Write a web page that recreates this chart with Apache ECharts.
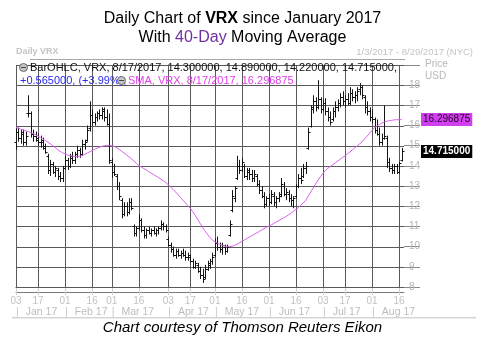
<!DOCTYPE html>
<html><head><meta charset="utf-8">
<script src="https://cdn.jsdelivr.net/npm/echarts@6/dist/echarts.min.js"></script>
<style>html,body{margin:0;padding:0;background:#fff}#c{width:485px;height:351px}</style>
</head><body><div id="c"></div>
<script>
// Trading days (2017) per month; last Aug day (18) is an empty slot at the right edge
const janDays=[3,4,5,6,9,10,11,12,13,17,18,19,20,23,24,25,26,27,30,31];
const febDays=[1,2,3,6,7,8,9,10,13,14,15,16,17,21,22,23,24,27,28];
const marDays=[1,2,3,6,7,8,9,10,13,14,15,16,17,20,21,22,23,24,27,28,29,30,31];
const aprDays=[3,4,5,6,7,10,11,12,13,17,18,19,20,21,24,25,26,27,28];
const mayDays=[1,2,3,4,5,8,9,10,11,12,15,16,17,18,19,22,23,24,25,26,30,31];
const junDays=[1,2,5,6,7,8,9,12,13,14,15,16,19,20,21,22,23,26,27,28,29,30];
const julDays=[3,5,6,7,10,11,12,13,14,17,18,19,20,21,24,25,26,27,28,31];
const augDays=[1,2,3,4,7,8,9,10,11,14,15,16,17,18];

const dayTickLabels=['01-03','01-17','02-01','02-16','03-01','03-16','04-03','04-17','05-01','05-16','06-01','06-16','07-03','07-17','08-01','08-16'];
const monthLabels={'01-03':'Jan 17','02-01':'Feb 17','03-01':'Mar 17','04-03':'Apr 17','05-01':'May 17','06-01':'Jun 17','07-03':'Jul 17','08-01':'Aug 17'};
const priceTicks=[8,9,10,11,12,13,14,15,16,17,18];
const gridPrices=[8,9,10,11,12,13,14,15,16,17,18,19];

const openP=[
15.2,15.7,15.4,15.6,15.2,16.6,16.6,15.6,15.5,15.3,
15.2,15.2,15.0,14.5,13.8,14.1,13.7,13.8,13.5,13.4,
13.9,14.3,14.0,14.4,14.3,14.6,14.8,14.6,15.1,15.3,
15.9,16.5,16.2,16.4,16.6,16.5,16.7,16.4,16.1,14.2,
13.7,13.5,13.0,12.3,11.6,12.0,11.7,12.2,11.0,10.7,
10.9,11.3,10.8,10.6,10.8,10.7,10.8,10.7,10.8,10.9,
11.1,11.0,10.4,10.1,9.9,9.6,9.8,9.6,9.7,9.6,
9.5,9.5,9.3,9.0,9.1,8.8,8.6,8.5,8.9,9.1,
9.3,9.6,10.2,10.0,9.9,10.0,9.8,10.6,11.8,12.4,
13.4,14.0,13.8,14.0,13.5,13.7,13.6,13.4,13.5,13.1,
12.8,12.5,12.1,12.4,12.2,12.5,12.2,12.4,12.6,13.0,
12.6,12.6,12.4,12.3,12.5,13.0,13.4,13.5,13.9,14.9,
16.0,16.9,17.2,17.0,17.3,16.8,17.1,16.7,16.4,16.3,
16.7,16.9,17.1,17.4,17.2,17.3,17.1,17.6,17.4,17.5,
17.8,17.9,17.4,16.9,16.7,16.4,16.3,15.8,15.6,15.2,
15.4,15.4,14.2,13.9,13.8,14.0,13.7,14.3];
const highP=[
15.9,15.9,15.8,15.8,15.7,17.5,16.7,15.8,15.7,15.6,
15.5,15.4,15.1,14.6,14.3,14.2,14.0,13.9,13.7,14.0,
14.5,14.4,14.6,14.7,14.7,15.0,14.9,15.3,15.3,16.0,
17.2,16.8,16.6,16.7,16.8,16.9,16.9,16.8,16.6,14.4,
14.1,13.6,13.2,12.4,12.2,12.2,12.4,12.4,11.1,11.0,
11.6,11.4,11.0,10.9,11.0,10.9,11.0,10.9,11.0,11.3,
11.2,11.1,10.5,10.2,10.0,9.9,9.9,9.8,9.9,9.8,
9.7,9.6,9.4,9.3,9.2,9.0,8.9,9.1,9.3,9.4,
9.7,10.4,10.5,10.2,10.2,10.1,10.1,11.3,12.8,13.0,
14.5,14.3,14.4,14.1,13.9,13.9,13.8,13.8,13.6,13.3,
13.0,12.7,12.5,12.6,12.8,12.7,12.5,12.7,13.4,13.2,
12.9,12.8,12.6,12.5,13.1,13.6,13.9,14.1,14.2,15.9,
17.0,17.5,17.4,18.25,17.4,17.3,17.35,16.9,16.7,16.9,
17.2,17.3,17.6,17.7,17.5,17.6,17.9,17.8,17.7,17.9,
18.1,18.0,17.5,17.2,16.9,16.8,16.4,16.3,15.9,15.6,
17.0,15.5,14.4,14.1,14.1,14.1,14.2,14.89];
const lowP=[
14.8,15.2,15.1,15.0,15.0,16.4,15.4,15.2,15.2,15.0,
14.9,14.8,14.6,13.6,13.5,13.6,13.45,13.3,13.2,13.2,
13.8,13.8,13.9,14.1,14.1,14.4,14.4,14.5,14.8,15.2,
15.7,16.0,16.0,16.2,16.3,16.3,16.2,16.0,14.1,13.4,
13.5,12.8,12.3,11.4,11.5,11.5,11.6,11.8,10.5,10.5,
10.8,10.7,10.4,10.4,10.6,10.5,10.6,10.5,10.6,10.8,
10.8,10.7,10.0,9.7,9.5,9.4,9.5,9.4,9.5,9.3,
9.3,9.2,8.9,8.9,8.7,8.4,8.2,8.4,8.8,8.9,
9.1,9.5,9.8,9.7,9.6,9.6,9.7,10.5,11.7,12.2,
13.3,13.6,13.7,13.4,13.3,13.3,13.2,13.2,13.0,12.6,
12.4,11.9,12.0,12.0,12.1,12.0,11.9,12.2,12.45,12.5,
12.3,12.2,12.0,11.9,12.4,12.9,13.1,13.4,13.6,14.8,
15.9,16.6,16.7,16.8,16.6,16.7,16.5,16.2,16.0,16.2,
16.4,16.7,16.9,17.0,16.9,17.0,17.0,17.2,17.1,17.2,
17.5,17.3,16.6,16.5,16.2,16.1,15.6,15.5,15.0,15.0,
15.3,13.9,13.7,13.6,13.6,13.6,13.6,14.22];
const closeP=[
15.7,15.4,15.7,15.2,15.5,16.6,15.6,15.5,15.4,15.2,
15.3,14.9,14.7,13.8,14.1,13.7,13.9,13.5,13.4,13.9,
14.3,14.0,14.5,14.3,14.6,14.8,14.6,15.1,15.2,15.8,
16.5,16.2,16.4,16.6,16.5,16.8,16.4,16.1,14.3,13.7,
13.6,13.0,12.5,11.6,12.0,11.7,12.2,11.9,10.7,10.9,
11.3,10.8,10.6,10.8,10.7,10.8,10.7,10.8,10.9,11.1,
11.0,10.8,10.1,9.9,9.6,9.8,9.6,9.7,9.6,9.5,
9.6,9.3,9.0,9.2,8.8,8.6,8.4,8.9,9.2,9.3,
9.5,10.2,10.0,9.9,10.1,9.8,10.0,11.1,12.5,12.9,
14.0,13.8,14.2,13.5,13.8,13.6,13.4,13.6,13.1,12.8,
12.5,12.1,12.4,12.2,12.6,12.2,12.4,12.5,13.1,12.6,
12.7,12.4,12.3,12.4,13.0,13.4,13.3,13.9,14.0,15.7,
16.8,17.2,16.9,17.3,16.8,17.1,16.7,16.4,16.2,16.7,
16.9,17.1,17.4,17.2,17.3,17.1,17.6,17.4,17.5,17.7,
17.9,17.5,16.9,16.7,16.4,16.3,15.8,15.6,15.2,15.4,
15.5,14.2,13.9,13.8,14.0,13.7,14.15,14.715];
const sma40=[
15.9,15.86,15.82,15.78,15.74,15.7,15.65,15.6,15.54,15.47,
15.4,15.33,15.25,15.17,15.09,15.0,14.9,14.8,14.72,14.65,
14.59,14.54,14.5,14.48,14.47,14.47,14.48,14.52,14.57,14.63,
14.7,14.76,14.82,14.88,14.93,14.97,15.0,15.02,15.02,15.0,
14.97,14.9,14.82,14.73,14.64,14.55,14.45,14.35,14.25,14.13,
14.02,13.95,13.87,13.8,13.72,13.65,13.57,13.5,13.42,13.34,
13.26,13.17,13.07,12.95,12.83,12.7,12.57,12.44,12.3,12.17,
12.03,11.9,11.73,11.55,11.35,11.15,10.95,10.77,10.6,10.45,
10.33,10.24,10.17,10.11,10.06,10.03,10.01,10.0,10.02,10.06,
10.12,10.19,10.26,10.33,10.4,10.47,10.54,10.61,10.68,10.75,
10.82,10.89,10.96,11.02,11.08,11.15,11.22,11.29,11.36,11.43,
11.5,11.58,11.66,11.75,11.84,11.94,12.05,12.17,12.3,12.5,
12.7,12.9,13.1,13.3,13.47,13.63,13.78,13.88,13.97,14.06,
14.15,14.24,14.33,14.42,14.5,14.6,14.7,14.8,14.9,15.0,
15.1,15.2,15.34,15.48,15.62,15.76,15.9,15.98,16.05,16.12,
16.18,16.21,16.24,16.26,16.28,16.29,16.29,16.296875];
const lastSma=16.296875, lastClose=14.715;

function pad(n){return (n<10?'0':'')+n;}
const months=[janDays,febDays,marDays,aprDays,mayDays,junDays,julDays,augDays];
const categories=[];
months.forEach((days,m)=>days.forEach(d=>categories.push(pad(m+1)+'-'+pad(d))));

const ohlc=openP.map((o,i)=>[i,o,highP[i],lowP[i],closeP[i]]);
const tickIdx=dayTickLabels.map(d=>categories.indexOf(d));
const isTick=(idx,val)=>tickIdx.indexOf(idx)>=0;
const isMonth=(idx)=>monthLabels[categories[idx]]!==undefined;
const FONT='Liberation Sans, Arial, sans-serif';
const GRID='#5a5a5a';

const chart=echarts.init(document.getElementById('c'),null,{renderer:'canvas'});
chart.setOption({
  animation:false,
  title:[
    {text:'Daily Chart of {b|VRX} since January 2017',left:'center',top:6,
     textStyle:{fontFamily:FONT,fontSize:16,fontWeight:'normal',color:'#000',
       rich:{b:{fontFamily:FONT,fontSize:16,fontWeight:'bold',color:'#000'}}}},
    {text:'With {p|40-Day} Moving Average',left:'center',top:25,
     textStyle:{fontFamily:FONT,fontSize:16,fontWeight:'normal',color:'#000',
       rich:{p:{fontFamily:FONT,fontSize:16,color:'#7030a0'}}}}
  ],
  grid:{left:16,right:81,top:65,bottom:64},
  xAxis:[
    {type:'category',data:categories,boundaryGap:false,
     axisLine:{show:true,lineStyle:{color:'#444',width:1}},
     axisTick:{show:true,interval:isTick,length:8,lineStyle:{color:'#cfcfcf'}},
     splitLine:{show:false},
     axisLabel:{interval:isTick,formatter:v=>v.slice(3),color:'#c2c2c2',fontFamily:FONT,fontSize:10,margin:9}},
    {type:'category',data:categories,boundaryGap:false,position:'bottom',offset:5,
     axisLine:{show:true,lineStyle:{color:'#777'}},axisTick:{show:false},splitLine:{show:false},
     axisLabel:{interval:(i)=>isMonth(i),align:'left',margin:15,
       formatter:v=>'{s||}{m|'+monthLabels[v]+'}',
       rich:{s:{color:'#c8c8c8',fontFamily:FONT,fontSize:10.5,padding:[0,7,0,0]},
             m:{color:'#bdbdbd',fontFamily:FONT,fontSize:10.5}}}}
  ],
  yAxis:{type:'value',position:'right',min:8,max:19,interval:1,
    axisLine:{show:false},
    axisTick:{show:true,length:16,lineStyle:{color:'#8a8a8a'}},
    splitLine:{show:false},
    axisLabel:{formatter:v=>priceTicks.indexOf(v)>=0?String(v):'',color:'#b4b4b4',fontFamily:FONT,fontSize:10,margin:5}},
  series:[
    {type:'custom',name:'gridV',silent:true,clip:false,z:1,data:tickIdx.map(i=>[i,8]),encode:{x:0,y:1},
     renderItem:function(params,api){
       const cs=params.coordSys;const p=api.coord([api.value(0),8]);const x=Math.round(p[0])+0.5;
       return {type:'line',shape:{x1:x,y1:cs.y,x2:x,y2:cs.y+cs.height},style:{stroke:GRID,lineWidth:1}};
     }},
    {type:'custom',name:'gridH',silent:true,clip:false,z:1,data:gridPrices.map(v=>[0,v]),encode:{x:0,y:1},
     renderItem:function(params,api){
       const cs=params.coordSys;const p=api.coord([0,api.value(1)]);const y=Math.round(p[1])+0.5;
       return {type:'line',shape:{x1:cs.x,y1:y,x2:cs.x+cs.width,y2:y},style:{stroke:GRID,lineWidth:1}};
     }},
    {type:'custom',name:'BarOHLC',data:ohlc,encode:{x:0,y:[1,2,3,4]},z:3,
     renderItem:function(params,api){
       const i=api.value(0);
       const pH=api.coord([i,api.value(2)]),pL=api.coord([i,api.value(3)]);
       const pO=api.coord([i,api.value(1)]),pC=api.coord([i,api.value(4)]);
       const cx=Math.round(pH[0])+0.5;
       return {type:'group',children:[
         {type:'line',shape:{x1:cx,y1:pH[1],x2:cx,y2:pL[1]},style:{stroke:'#151515',lineWidth:1}},
         {type:'line',shape:{x1:cx-2,y1:Math.round(pO[1])+0.5,x2:cx,y2:Math.round(pO[1])+0.5},style:{stroke:'#151515',lineWidth:1}},
         {type:'line',shape:{x1:cx,y1:Math.round(pC[1])+0.5,x2:cx+2,y2:Math.round(pC[1])+0.5},style:{stroke:'#151515',lineWidth:1}}
       ]};
     }},
    {type:'line',name:'SMA',data:sma40,showSymbol:false,smooth:false,z:4,
     lineStyle:{color:'#d860ec',width:1},
     markLine:{silent:true,symbol:'none',animation:false,
       lineStyle:{color:'transparent',width:0},
       data:[
         {yAxis:lastSma,label:{show:true,position:'end',distance:17,formatter:'16.296875',
           backgroundColor:'#d23ff0',color:'#2a002a',fontFamily:FONT,fontSize:10,padding:[2,2,1,2]}},
         {yAxis:lastClose,label:{show:true,position:'end',distance:17,formatter:'14.715000',
           backgroundColor:'#000',color:'#fff',fontWeight:'bold',fontFamily:FONT,fontSize:10,padding:[2,2,1,2]}}
       ]}}
  ],
  graphic:[
    {type:'text',left:16,top:47,style:{text:'Daily VRX',fill:'#c4c4c4',font:'bold 9px '+FONT}},
    {type:'text',right:12,top:47,style:{text:'1/3/2017 - 8/29/2017 (NYC)',fill:'#c4c4c4',font:'9.5px '+FONT}},
    {type:'line',shape:{x1:30,y1:59.5,x2:405,y2:59.5},style:{stroke:'#a8a8a8',lineWidth:1}},
    {type:'circle',shape:{cx:23.5,cy:67.5,r:4},style:{fill:'#c8c8c8',stroke:'#6a6a6a',lineWidth:1},z:10},
    {type:'line',shape:{x1:21,y1:67.5,x2:26,y2:67.5},style:{stroke:'#444',lineWidth:1},z:11},
    {type:'text',x:30,y:62,z:10,style:{text:'BarOHLC, VRX, 8/17/2017, 14.300000, 14.890000, 14.220000, 14.715000,',fill:'#111',font:'11px '+FONT}},
    {type:'text',x:20,y:75,z:10,style:{text:'+0.565000, (+3.99%),',fill:'#2a2af0',font:'11px '+FONT}},
    {type:'circle',shape:{cx:121.5,cy:80.5,r:4},style:{fill:'#c8c8c8',stroke:'#6a6a6a',lineWidth:1},z:10},
    {type:'line',shape:{x1:119,y1:80.5,x2:124,y2:80.5},style:{stroke:'#444',lineWidth:1},z:11},
    {type:'text',x:128,y:75,z:10,style:{text:'SMA, VRX, 8/17/2017, 16.296875',fill:'#e040e8',font:'11px '+FONT}},
    {type:'text',x:425,y:59,style:{text:'Price',fill:'#b8b8b8',font:'10px '+FONT}},
    {type:'text',x:425,y:71,style:{text:'USD',fill:'#b8b8b8',font:'10px '+FONT}},
    {type:'line',shape:{x1:12,y1:317.5,x2:476,y2:317.5},style:{stroke:'#d4d4d4',lineWidth:1}},
    {type:'line',shape:{x1:12,y1:318.5,x2:476,y2:318.5},style:{stroke:'#ececec',lineWidth:1}},
    {type:'text',left:'center',top:320,style:{text:'Chart courtesy of Thomson Reuters Eikon',fill:'#000',font:'italic 15px '+FONT}}
  ]
});
</script></body></html>
